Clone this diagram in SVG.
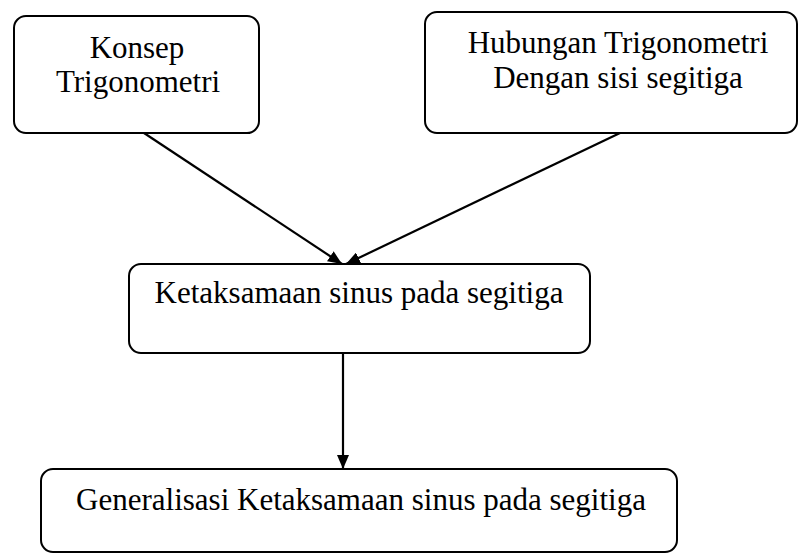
<svg xmlns="http://www.w3.org/2000/svg" width="800" height="555" viewBox="0 0 800 555">
<style>
.box{fill:#fff;stroke:#000;stroke-width:2}
.t{font-family:'Liberation Serif','DejaVu Serif','Times New Roman',Times,serif;font-size:31px;fill:#000;text-anchor:middle}
.c{stroke:#000;stroke-width:2.2;fill:none;marker-end:url(#ah)}
</style>
<defs>
<marker id="ah" viewBox="0 0 14 12" refX="14" refY="6" markerWidth="14" markerHeight="12" markerUnits="userSpaceOnUse" orient="auto">
<path d="M0,0 L14,6 L0,12 Z" fill="#000"/>
</marker>
</defs>
<rect width="800" height="555" fill="#fff"/>
<g id="connectors">
<line class="c" x1="144" y1="133" x2="342" y2="264"/>
<line class="c" x1="620" y1="133" x2="346" y2="264"/>
<line class="c" x1="343" y1="353" x2="343" y2="469"/>
</g>
<g id="konsep">
<rect class="box" x="14" y="16" width="245" height="117" rx="12"/>
<text class="t" x="137" y="58" font-family="Liberation Serif, serif">Konsep</text>
<text class="t" x="138" y="92" font-family="Liberation Serif, serif">Trigonometri</text>
</g>
<g id="hubungan">
<rect class="box" x="425" y="12" width="372" height="121" rx="12"/>
<text class="t" x="618" y="53">Hubungan Trigonometri</text>
<text class="t" x="618" y="88">Dengan sisi segitiga</text>
</g>
<g id="ketaksamaan">
<rect class="box" x="129" y="264" width="461" height="89" rx="12"/>
<text class="t" x="359" y="303">Ketaksamaan sinus pada segitiga</text>
</g>
<g id="generalisasi">
<rect class="box" x="41" y="469" width="636" height="83" rx="12"/>
<text class="t" x="361" y="510">Generalisasi Ketaksamaan sinus pada segitiga</text>
</g>
</svg>
